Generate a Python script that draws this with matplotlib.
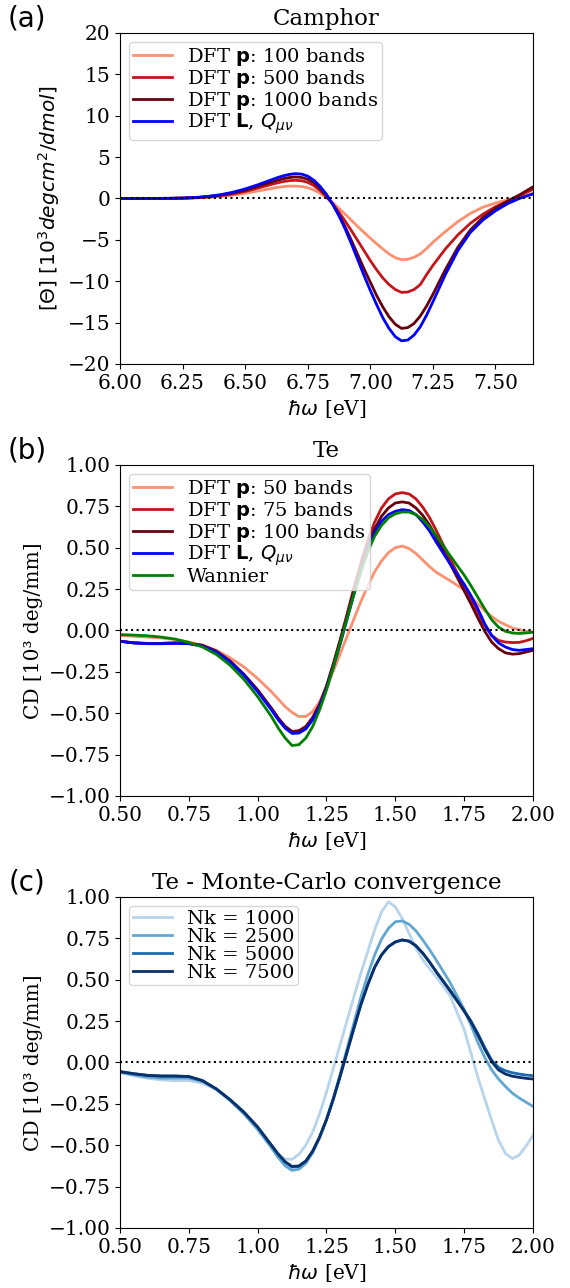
import numpy as np
import matplotlib
matplotlib.use("Agg")
import matplotlib.pyplot as plt

# ---------------------------------------------------------------- data
# (a) Camphor, values in 10^3 deg cm^2/dmol
energy_camphor = [6.00, 6.10, 6.20, 6.25, 6.30, 6.35, 6.40, 6.45, 6.50, 6.55,
                  6.60, 6.625, 6.65, 6.675, 6.70, 6.725, 6.75, 6.775, 6.80, 6.825,
                  6.85, 6.875, 6.90, 6.925, 6.95, 6.975, 7.00, 7.025, 7.05, 7.075,
                  7.10, 7.125, 7.15, 7.175, 7.20, 7.225, 7.25, 7.30, 7.35, 7.40,
                  7.45, 7.50, 7.55, 7.60, 7.65]
camphor_p100 = [0.0, 0.0, 0.01, 0.03, 0.07, 0.13, 0.24, 0.40, 0.62, 0.90,
                1.18, 1.32, 1.43, 1.49, 1.50, 1.45, 1.30, 1.03, 0.62, 0.10,
                -0.50, -1.20, -1.90, -2.65, -3.40, -4.10, -4.80, -5.45, -6.10, -6.70,
                -7.15, -7.40, -7.35, -7.10, -6.70, -6.05, -5.30, -4.00, -2.80, -1.80,
                -1.05, -0.55, -0.15, 0.20, 0.60]
camphor_p500 = [0.0, 0.0, 0.02, 0.04, 0.09, 0.18, 0.33, 0.55, 0.85, 1.25,
                1.66, 1.86, 2.03, 2.15, 2.20, 2.15, 1.95, 1.55, 0.95, 0.20,
                -0.65, -1.65, -2.75, -3.90, -5.10, -6.30, -7.50, -8.60, -9.60, -10.40,
                -11.00, -11.35, -11.30, -11.00, -10.40, -9.20, -8.10, -6.10, -4.40, -3.00,
                -1.90, -1.00, -0.30, 0.40, 1.10]
camphor_p1000 = [0.0, 0.0, 0.02, 0.05, 0.10, 0.22, 0.40, 0.65, 1.00, 1.45,
                 1.93, 2.17, 2.38, 2.53, 2.60, 2.55, 2.33, 1.90, 1.20, 0.35,
                 -0.70, -2.00, -3.45, -5.10, -6.80, -8.50, -10.10, -11.70, -13.10, -14.30,
                 -15.20, -15.70, -15.60, -15.10, -14.20, -13.00, -11.60, -8.60, -5.90, -3.80,
                 -2.30, -1.20, -0.30, 0.50, 1.40]
camphor_L = [0.0, 0.0, 0.02, 0.05, 0.12, 0.25, 0.45, 0.75, 1.15, 1.65,
             2.20, 2.48, 2.72, 2.90, 3.00, 2.95, 2.70, 2.20, 1.45, 0.50,
             -0.70, -2.10, -3.70, -5.50, -7.40, -9.30, -11.10, -12.80, -14.40, -15.70,
             -16.70, -17.20, -17.10, -16.50, -15.50, -14.10, -12.50, -9.20, -6.30, -4.10,
             -2.60, -1.50, -0.60, 0.05, 0.55]

# (b) Te, band convergence, values in 10^3 deg/mm
energy_te = [0.50, 0.55, 0.60, 0.65, 0.70, 0.75, 0.80, 0.85, 0.90, 0.95,
             1.00, 1.025, 1.05, 1.075, 1.10, 1.125, 1.15, 1.175, 1.20, 1.225,
             1.25, 1.275, 1.30, 1.325, 1.35, 1.375, 1.40, 1.425, 1.45, 1.475,
             1.50, 1.525, 1.55, 1.575, 1.60, 1.625, 1.65, 1.70, 1.75, 1.775,
             1.80, 1.825, 1.85, 1.875, 1.90, 1.925, 1.95, 1.975, 2.00]
te_p50 = [-0.030, -0.035, -0.040, -0.045, -0.055, -0.070, -0.090, -0.120, -0.165, -0.220,
          -0.290, -0.330, -0.370, -0.415, -0.460, -0.495, -0.520, -0.520, -0.490, -0.430,
          -0.345, -0.245, -0.140, -0.035, 0.070, 0.175, 0.270, 0.355, 0.420, 0.470,
          0.500, 0.510, 0.495, 0.465, 0.425, 0.385, 0.350, 0.300, 0.245, 0.205,
          0.160, 0.120, 0.085, 0.055, 0.035, 0.015, 0.005, -0.005, -0.010]
te_p75 = [-0.065, -0.075, -0.078, -0.078, -0.075, -0.078, -0.090, -0.125, -0.185, -0.265,
          -0.360, -0.415, -0.470, -0.530, -0.580, -0.610, -0.605, -0.580, -0.525, -0.445,
          -0.335, -0.200, -0.055, 0.100, 0.260, 0.410, 0.545, 0.655, 0.740, 0.795,
          0.825, 0.833, 0.825, 0.795, 0.745, 0.680, 0.600, 0.430, 0.265, 0.185,
          0.105, 0.030, -0.030, -0.060, -0.070, -0.073, -0.072, -0.062, -0.048]
te_p100 = [-0.065, -0.075, -0.078, -0.078, -0.075, -0.078, -0.090, -0.125, -0.185, -0.265,
           -0.360, -0.415, -0.470, -0.530, -0.580, -0.612, -0.608, -0.582, -0.528, -0.450,
           -0.340, -0.205, -0.060, 0.090, 0.245, 0.385, 0.515, 0.615, 0.690, 0.740,
           0.770, 0.777, 0.770, 0.740, 0.695, 0.635, 0.560, 0.400, 0.240, 0.160,
           0.075, -0.005, -0.070, -0.110, -0.135, -0.143, -0.140, -0.130, -0.120]
te_L = [-0.065, -0.075, -0.080, -0.080, -0.078, -0.080, -0.095, -0.130, -0.190, -0.270,
        -0.370, -0.425, -0.480, -0.540, -0.590, -0.622, -0.620, -0.595, -0.540, -0.460,
        -0.350, -0.220, -0.080, 0.070, 0.220, 0.360, 0.490, 0.590, 0.660, 0.700,
        0.720, 0.730, 0.725, 0.700, 0.655, 0.600, 0.530, 0.400, 0.280, 0.210,
        0.130, 0.040, -0.030, -0.075, -0.100, -0.115, -0.120, -0.115, -0.110]
te_wannier = [-0.025, -0.028, -0.032, -0.040, -0.052, -0.072, -0.100, -0.145, -0.210, -0.295,
              -0.400, -0.460, -0.520, -0.590, -0.650, -0.695, -0.690, -0.650, -0.580, -0.480,
              -0.360, -0.220, -0.075, 0.075, 0.220, 0.355, 0.475, 0.570, 0.635, 0.680,
              0.705, 0.716, 0.715, 0.700, 0.670, 0.625, 0.570, 0.450, 0.335, 0.270,
              0.200, 0.130, 0.065, 0.020, -0.005, -0.015, -0.018, -0.015, -0.010]

# (c) Te, Monte-Carlo k-point convergence (same energy grid as (b))
te_nk1000 = [-0.060, -0.080, -0.095, -0.105, -0.110, -0.110, -0.125, -0.165, -0.230, -0.310,
             -0.400, -0.450, -0.500, -0.550, -0.585, -0.585, -0.555, -0.500, -0.420, -0.310,
             -0.180, -0.035, 0.110, 0.255, 0.400, 0.540, 0.670, 0.800, 0.910, 0.970,
             0.940, 0.870, 0.780, 0.690, 0.620, 0.565, 0.515, 0.400, 0.200, 0.055,
             -0.090, -0.220, -0.350, -0.470, -0.550, -0.580, -0.560, -0.505, -0.440]
te_nk2500 = [-0.060, -0.075, -0.088, -0.095, -0.095, -0.095, -0.115, -0.160, -0.230, -0.310,
             -0.405, -0.460, -0.515, -0.575, -0.625, -0.652, -0.645, -0.610, -0.545, -0.455,
             -0.345, -0.215, -0.070, 0.085, 0.240, 0.395, 0.530, 0.650, 0.745, 0.810,
             0.850, 0.855, 0.835, 0.795, 0.740, 0.680, 0.615, 0.480, 0.320, 0.225,
             0.120, 0.030, -0.045, -0.100, -0.145, -0.185, -0.215, -0.240, -0.265]
te_nk5000 = [-0.055, -0.068, -0.078, -0.082, -0.082, -0.085, -0.110, -0.160, -0.225, -0.300,
             -0.390, -0.445, -0.500, -0.555, -0.602, -0.632, -0.628, -0.597, -0.537, -0.452,
             -0.347, -0.222, -0.082, 0.063, 0.208, 0.348, 0.470, 0.575, 0.650, 0.700,
             0.728, 0.740, 0.733, 0.705, 0.660, 0.605, 0.545, 0.435, 0.315, 0.250,
             0.175, 0.090, 0.015, -0.030, -0.050, -0.062, -0.070, -0.076, -0.080]
te_nk7500 = [-0.055, -0.068, -0.078, -0.082, -0.082, -0.085, -0.110, -0.160, -0.225, -0.300,
             -0.390, -0.445, -0.500, -0.555, -0.600, -0.628, -0.625, -0.595, -0.535, -0.450,
             -0.345, -0.220, -0.080, 0.065, 0.210, 0.350, 0.470, 0.575, 0.650, 0.700,
             0.728, 0.740, 0.733, 0.705, 0.660, 0.605, 0.545, 0.430, 0.310, 0.245,
             0.165, 0.080, 0.005, -0.045, -0.070, -0.083, -0.090, -0.096, -0.100]

labels_camphor = [r"DFT $\mathbf{p}$: 100 bands", r"DFT $\mathbf{p}$: 500 bands",
                  r"DFT $\mathbf{p}$: 1000 bands", r"DFT $\mathbf{L}$, $Q_{\mu\nu}$"]
labels_te = [r"DFT $\mathbf{p}$: 50 bands", r"DFT $\mathbf{p}$: 75 bands",
             r"DFT $\mathbf{p}$: 100 bands", r"DFT $\mathbf{L}$, $Q_{\mu\nu}$", "Wannier"]
labels_nk = ["Nk = 1000", "Nk = 2500", "Nk = 5000", "Nk = 7500"]

# ---------------------------------------------------------------- style
plt.rcParams["font.family"] = "DejaVu Serif"
plt.rcParams["font.size"] = 14.5

reds = plt.cm.Reds
blues = plt.cm.Blues
colors_p = [reds(0.38), reds(0.78), reds(1.0)]
colors_nk = [blues(0.3), blues(0.53), blues(0.77), blues(1.0)]


def draw_panel(ax, x, curves, labels, colors, title, letter):
    for y, label, c in zip(curves, labels, colors):
        ax.plot(x, y, color=c, lw=2, label=label)
    ax.axhline(0, color="k", ls=":", lw=1.5)
    ax.set_title(title, fontsize=16.5)
    ax.set_xlabel(r"$\hbar\omega$ [eV]")
    ax.legend(loc="upper left", fontsize=14, borderaxespad=0.45,
              handlelength=2.0, labelspacing=0.0, borderpad=0.2)
    ax.text(-0.225, 1.045, letter, transform=ax.transAxes, ha="center",
            va="center", fontsize=20, family="DejaVu Sans")


fig, axes = plt.subplots(3, 1, figsize=(5.7, 12.88), dpi=100)
fig.subplots_adjust(left=0.2105, right=0.935, top=0.9744, bottom=0.0466,
                    hspace=0.305)

ax = axes[0]
draw_panel(ax, energy_camphor,
           [camphor_p100, camphor_p500, camphor_p1000, camphor_L],
           labels_camphor, colors_p + ["blue"], "Camphor", "(a)")
ax.set_xlim(6.0, 7.65)
ax.set_ylim(-20, 20)
ax.set_xticks(np.arange(6.0, 7.51, 0.25))
ax.set_yticks(np.arange(-20, 21, 5))
ax.set_ylabel(r"$[\Theta]$ $[10^3 deg cm^2/dmol]$")

ax = axes[1]
draw_panel(ax, energy_te, [te_p50, te_p75, te_p100, te_L, te_wannier],
           labels_te, colors_p + ["blue", "green"], "Te", "(b)")

ax = axes[2]
draw_panel(ax, energy_te, [te_nk1000, te_nk2500, te_nk5000, te_nk7500],
           labels_nk, colors_nk, "Te - Monte-Carlo convergence", "(c)")

for ax in axes[1:]:
    ax.set_xlim(0.5, 2.0)
    ax.set_ylim(-1, 1)
    ax.set_xticks(np.arange(0.5, 2.01, 0.25))
    ax.set_yticks(np.arange(-1, 1.01, 0.25))
    ax.set_ylabel("CD [10³ deg/mm]")

fig.savefig("out.png", dpi=100)
